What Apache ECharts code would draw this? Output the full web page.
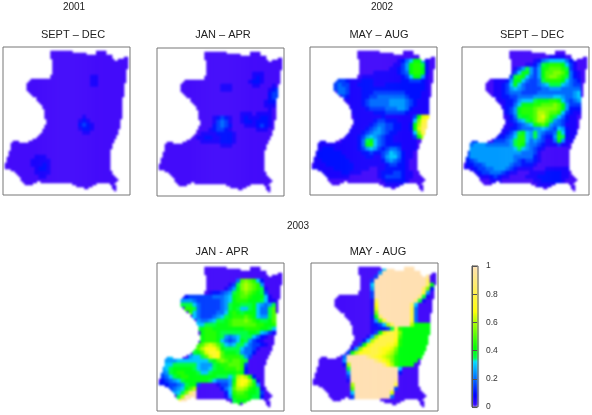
<!DOCTYPE html>
<html>
<head>
<meta charset="utf-8">
<style>
html,body{margin:0;padding:0;background:#fff}
#wrap{position:relative;width:592px;height:415px}
#heat,#top{position:absolute;left:0;top:0;width:592px;height:415px}
#heat{filter:blur(1px)}
#top{filter:blur(0.4px)}
</style>
<script src="https://cdn.jsdelivr.net/npm/echarts@6/dist/echarts.min.js"></script>
</head>
<body>
<div id="wrap">
<div id="heat"></div>
<div id="top"></div>
</div>
<script>
// cells of the map for each row of the fine grid: start, end, start, end ... (inclusive)
var mapRuns = [
[],[],
[24,34,47,51],[24,41,47,51],[24,54],[24,54,61,62],[25,55,58,62],[25,62],[25,62],[25,62],
[25,62],[25,61],[25,61],[25,61],[24,61],[24,61],[14,61],[13,61],[12,60],[12,60],
[12,60],[12,60],[13,60],[14,60],[15,60],[17,59],[17,59],[18,59],[19,59],[20,59],
[20,59],[21,59],[21,59],[21,59],[21,59],[21,59],[22,58],[22,58],[22,58],[21,58],
[21,58],[20,57],[20,57],[19,57],[18,56],[17,56],[15,55],[5,7,13,55],[4,54],[4,54],
[4,54],[4,53],[3,53],[3,53],[3,53],[2,53],[2,53],[2,53],[1,53],[1,53],
[1,53],[4,53],[6,54],[7,54],[8,55],[9,56],[9,57],[10,16,19,56],[11,14,35,46,54,55],[37,44,55,56],
[41,42,55,56],[56,56],[],[]
];

// values, one char per coarse cell, base 21: 0 = 0, a = 0.5, k = 1 (steps of 0.05)
// rows run top to bottom, columns left to right, short rows are zero to the right
var sep2001 = [
'','','','','','','',
'00000 00000 00000 00000 00110',
'00000 00000 00000 00000 00110',
'00000 00000 00000 00000 00110',
'','','',
'',
'',
'','',
'00000 00000 00000 00000 10000',
'00000 00000 00000 00001 21000',
'00000 00000 00000 00002 32100',
'00000 00000 00000 00001 22100',
'00000 00000 00000 00000 11000',
'','','','','',
'00000 00011 10000',
'00000 00111 11000',
'00000 00111 21000',
'00000 00012 21000',
'00000 00011 11000',
'00000 00001 10000',
'','','',''
];

var jan2002 = [
'','','','','','',
'00000 00000 00000 00000 00001 11000',
'00000 00000 00000 00000 00001 21000',
'00000 00000 00000 00000 00012 21000',
'00000 00000 00000 01110 00001 10001',
'00000 00000 00000 01110 00000 00012 3',
'00000 00000 00000 00000 00000 00023 3',
'00000 00000 00000 00000 00000 00023 3',
'00000 00000 00000 00000 00000 00122',
'00000 00000 00000 00000 00000 00111',
'00000 00000 00000 00000 00000 00010',
'00000 00000 00000 00000 01110 11110',
'00000 00000 00001 23210 01211 12210',
'00000 00000 00001 34310 01221 22210',
'00000 00000 00002 34320 00111 23210',
'00000 00000 00012 33210 00000 11100',
'00000 00000 01111 22221',
'00000 00000 11221 12221',
'00000 00000 01111 12221',
'00000 00000 00000 01110',
'','','','','','','','','','','',''
];

var may2002 = [
'','','',
'00000 00000 00000 00000 00124 68851',
'00000 00000 00000 00000 01135 89972',
'00000 00000 00000 00000 11235 89982',
'00000 00000 00000 01111 11234 89982',
'00000 00000 00011 11111 11123 68851',
'00000 03332 11122 21111 11122 33321',
'00000 03433 11222 21112 22222 22221',
'00000 03443 11122 22222 22222 22221',
'00000 00443 11122 23333 33332 22211',
'00000 00032 11122 33444 44443 22211',
'00000 00001 11123 44444 55554 32111',
'00000 00000 11123 44444 55554 32111',
'00000 00000 11112 33334 44554 21111',
'00000 00000 11111 12223 33332 11111',
'00000 00000 01111 11121 11111 138de',
'00000 00000 01111 12332 22111 16bfg',
'00000 00000 01111 23443 32211 28cgh',
'00000 00000 11112 34543 32211 28dhh',
'00000 00001 11123 45543 22111 16bgg',
'00000 00001 11235 65432 21111 138c',
'00111 00011 11247 86432 21111 11',
'00111 11111 11248 96432 22211 11',
'00122 21111 11235 65323 44311 11',
'01222 22211 11122 32234 65421 1',
'01222 22221 11112 21135 66421 1',
'01122 22222 11111 11124 54321',
'01112 22222 21111 11112 33221',
'11111 12222 21111 00112 22221',
'00011 11122 11100 00122 23321 1',
'00001 11111 00000 00123 33321 1',
'00000 00000 00000 00012 22221',
'00000 00000 00000 00001 11110',
'',
''
];

var sep2002 = [
'','',
'00000 00000 00000 00000 00111 10000',
'00000 00000 00000 00012 45666 64210',
'00000 00000 00000 01124 78999 86310',
'00000 00000 00013 57535 89aaa 97310',
'00000 00000 00136 88535 8aabb a8421',
'00000 00000 01379 86435 8abba 97421',
'00000 00011 12588 64334 79999 86432',
'00000 00011 23686 43334 56777 65433',
'00000 00011 23565 43333 44555 44444',
'00000 00011 23444 33334 44444 44456',
'00000 00011 22334 44455 55566 54456',
'00000 00001 12235 66678 88998 64345',
'00000 00000 12246 88899 aaaba 85333',
'00000 00000 12358 999ab bbbba 85222',
'00000 00000 12358 999ac cbaa9 63211',
'00000 00000 01247 889ac db976 42110',
'00000 00000 01235 678ac ca754 32110',
'00000 00000 01123 45689 a8544 31110',
'00000 00000 11223 44455 65436 52110',
'00000 00001 12357 86575 43348 62110',
'00000 00002 23469 96575 32259 72110',
'00233 00033 34579 96454 31148 51100',
'00455 54444 44579 85443 21113 11000',
'00555 55555 55567 65432 10000 00000',
'03555 55555 55555 44431',
'03555 55555 55544 44421',
'02345 55555 55543 23321',
'02233 45555 55433 22210',
'11123 34455 54321 11100 01111 11',
'00012 33444 32110 00111 12222 11',
'00001 11232 11000 01112 22222 11',
'00000 00111 00000 00011 22222 10',
'00000 00000 00000 00001 11110',
'',''
];

var jan2003 = [
'','','','',
'00000 00000 00000 00000 4aba9 62',
'00000 00000 00000 00013 7bcba 95',
'00000 00000 00000 00135 8bcba 971',
'00000 00000 00012 23457 9aba9 873',
'00000 01233 33334 44568 9aa98 8861',
'00000 05554 33333 34568 99988 87611',
'00000 07776 43333 34578 87778 65457',
'00000 00997 43333 34578 76678 6447a',
'00000 00096 43333 44689 87888 6447a',
'00000 00006 43334 56789 99a98 6557a',
'00000 00000 54456 7789a aaba9 8778a',
'00000 00000 66777 8889a aaaaa 99889',
'00000 00000 78998 88888 88999 98876',
'00000 00000 08999 87777 77788 76531',
'00000 00000 08999 87545 67776 4210',
'00000 00000 08999 86434 68753 2100',
'00000 00000 9acdc a7656 77643 3210',
'00000 00008 aceee c8777 76443 10000',
'00000 00007 8adff ea888 75442 00000',
'00560 00056 67adf ea999 97530 00000',
'00555 66666 66678 aba9a a9700 00000',
'00667 77777 65557 899aa a9300 00000',
'05678 88887 65567 88999 a9200 00000',
'04578 99888 76678 88888 98200 00000',
'03467 89988 88888 77767 cdc82 00000',
'02345 67888 88876 44458 deec7 10000',
'22233 45788 30000 13359 dedb9 50000',
'00034 568ac 00000 0246a ccb98 71000',
'00005 67bhk 00000 00269 aa988 73000',
'00000 7ckkk 00000 00158 99987 72000',
'00000 fkkk0 00000 00007 88880',
'00000 00000 00000 00000 80000',
''
];

var may2003 = [
'',
'00000 00000 00000 0006k kkkkk k0000',
'00000 00000 00000 005kk kkkkk kkkkk 00',
'00000 00000 00000 03kkk kkkkk kkkkj 00',
'00000 00000 00000 3kkkk kkkkk kkkkh 00',
'00000 00000 00000 6kkkk kkkkk kkkkh 80',
'00000 00000 00000 5kkkk kkkkk kkkhb 20',
'00000 00000 00000 3kkkk kkkkk kkkf5 00',
'00000 00000 00000 3kkkk kkkkk kki71',
'00000 00000 00000 1gkkk kkkkk ki710',
'00000 00000 00000 1ekkk kkkkk h6000',
'00000 00000 00000 1dkkk kkkkk g4000',
'00000 00000 00000 1bkkk kkkkk g4000',
'00000 00000 00000 28hkk kkkkk g4000',
'00000 00000 00000 15afk kkkkk f4000',
'00000 00000 00000 1236c hkkkk c8888',
'00000 00000 00000 11223 7g988 88888',
'00000 00000 00000 138df gfb88 88888',
'00000 00000 00001 5bfgg gfa88 88888',
'00000 00000 00026 cfggg ge988 88888',
'00000 00000 0038d fgggf fd988 88888',
'00000 00000 15bef ggfee db888 88888',
'00000 00003 8ceff ggfed ca888 88888',
'00000 0004k kkkki gfedc b9888 88800',
'00000 0005k kkkkk kiged b9888 88000',
'00000 0002c kkkkk kkkie c9888 80000',
'00000 00007 kkkkk kkkkk kk600 00000',
'00000 00005 kkkkk kkkkk kk200',
'00000 00003 kkkkk kkkkk kk000',
'00000 00001 kkkkk kkkkk kj000',
'00000 00000 ckkkk kkkkk kg000',
'00000 00000 akkkk kkkkk k3000',
'00000 00000 6kkkk kkkkk d0000',
'00000 00000 3kkkk kkkkk 40000',
'','',''
];

var panelValues = [sep2001, jan2002, may2002, sep2002, jan2003, may2003];
var panelTitles = ['SEPT – DEC', 'JAN – APR', 'MAY – AUG', 'SEPT – DEC', 'JAN - APR', 'MAY - AUG'];
var yearTitles = ['2001', '2002', '2003'];

// layout, pixels
var panelPos = [[3, 47], [157, 48], [310, 47], [462, 47], [157, 263], [311, 263]];
var panelTitlePos = [[73, 35], [223, 35], [379, 35], [532, 35], [222, 252], [378, 252]];
var yearPos = [[74, 7], [382, 7], [298, 226]];
var COLS = 64, ROWS = 74;

// same ramp as R topo.colors, purple end a little softer as in the picture
var rampStops = [
  [0, [68, 12, 250]], [0.083, [0, 0, 255]], [0.33, [0, 229, 255]],
  [0.34, [0, 255, 77]], [0.416, [0, 255, 0]], [0.66, [230, 255, 0]],
  [0.67, [255, 255, 0]], [1, [255, 224, 179]]
];
function buildRamp(steps) {
  var out = [];
  for (var i = 0; i <= steps; i++) {
    var t = i / steps, k = 0;
    while (k < rampStops.length - 2 && t > rampStops[k + 1][0]) k++;
    var a = rampStops[k], b = rampStops[k + 1];
    var f = (t - a[0]) / (b[0] - a[0]);
    out.push('rgb(' + a[1].map(function (v, j) { return Math.round(v + (b[1][j] - v) * f); }).join(',') + ')');
  }
  return out;
}

function indexList(n) {
  var out = [];
  for (var i = 0; i < n; i++) out.push(i);
  return out;
}

// each coarse value fills 2x2 cells of the fine grid the outline is drawn on
function panelData(rows) {
  var out = [];
  mapRuns.forEach(function (runs, r) {
    var vals = (rows[r >> 1] || '').replace(/ /g, '');
    for (var k = 0; k < runs.length; k += 2) {
      for (var c = runs[k]; c <= runs[k + 1]; c++) {
        out.push([c, r, parseInt(vals.charAt(c >> 1) || '0', 21) / 20]);
      }
    }
  });
  return out;
}

var heatGrids = [], frameGrids = [], xAxes = [], yAxes = [], series = [], titles = [];
panelValues.forEach(function (rows, i) {
  var box = { left: panelPos[i][0], top: panelPos[i][1], width: 127, height: 148 };
  heatGrids.push(box);
  frameGrids.push(Object.assign({ show: true, borderColor: '#777', borderWidth: 1, backgroundColor: 'transparent' }, box));
  xAxes.push({ type: 'category', gridIndex: i, data: indexList(COLS), show: false });
  yAxes.push({ type: 'category', gridIndex: i, data: indexList(ROWS), inverse: true, show: false });
  series.push({
    type: 'heatmap', xAxisIndex: i, yAxisIndex: i,
    data: panelData(rows), silent: true, animation: false, progressive: 0
  });
  titles.push({
    text: panelTitles[i], left: panelTitlePos[i][0], top: panelTitlePos[i][1],
    textAlign: 'center', textVerticalAlign: 'middle', padding: 0,
    textStyle: { fontFamily: 'Liberation Sans', fontSize: 11, fontWeight: 'normal', color: '#222' }
  });
});
yearTitles.forEach(function (t, i) {
  titles.push({
    text: t, left: yearPos[i][0], top: yearPos[i][1],
    textAlign: 'center', textVerticalAlign: 'middle', padding: 0,
    textStyle: { fontFamily: 'Liberation Sans', fontSize: 10, fontWeight: 'normal', color: '#222' }
  });
});

var heat = echarts.init(document.getElementById('heat'), null, { renderer: 'canvas' });
heat.setOption({
  animation: false,
  backgroundColor: '#fff',
  grid: heatGrids,
  xAxis: xAxes,
  yAxis: yAxes,
  visualMap: {
    type: 'continuous', min: 0, max: 1, dimension: 2,
    seriesIndex: [0, 1, 2, 3, 4, 5],
    left: 472, top: 266, itemWidth: 6, itemHeight: 141, padding: 0,
    calculable: false, hoverLink: false, showLabel: false,
    inRange: { color: buildRamp(150) }
  },
  series: series
});

// frames, text and the axis of the colour key sit on a sharper layer above
var xTop = xAxes.concat([{ type: 'value', gridIndex: 6, show: false, min: 0, max: 1 }]);
var yTop = yAxes.concat([{
  type: 'value', gridIndex: 6, position: 'right', min: 0, max: 1, interval: 0.2,
  splitLine: { show: false },
  axisLine: { show: true, lineStyle: { color: '#555' } },
  axisTick: { show: true, length: 5, lineStyle: { color: '#555' } },
  axisLabel: { margin: 8, fontFamily: 'Liberation Sans', fontSize: 8.5, color: '#333' }
}]);
var top_ = echarts.init(document.getElementById('top'), null, { renderer: 'canvas' });
top_.setOption({
  animation: false,
  backgroundColor: 'transparent',
  title: titles,
  grid: frameGrids.concat([{
    left: 472, top: 266, width: 6, height: 141,
    show: true, borderColor: '#555', borderWidth: 1, backgroundColor: 'transparent'
  }]),
  xAxis: xTop,
  yAxis: yTop
});
</script>
</body>
</html>
